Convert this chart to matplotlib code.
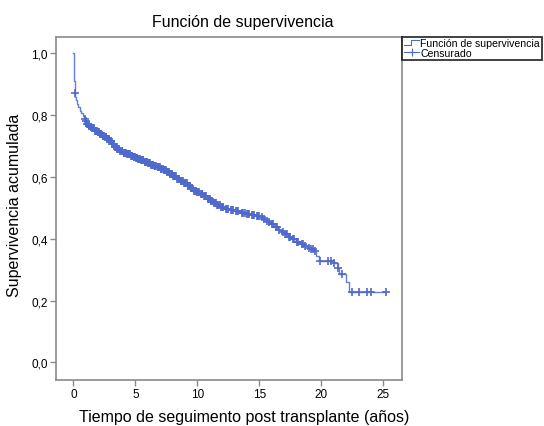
import numpy as np
import matplotlib
matplotlib.use("Agg")
import matplotlib.pyplot as plt
from matplotlib.lines import Line2D
from matplotlib.legend_handler import HandlerBase

plt.rcParams['font.family'] = ['Liberation Sans', 'DejaVu Sans']

# Kaplan-Meier step points
event_times = [0.0, 0.03, 0.06, 0.1, 0.15, 0.22, 0.3, 0.4, 0.5, 0.62,
               0.75, 0.85, 0.95, 1.05, 1.2, 1.35, 1.5, 1.7, 1.9, 2.1,
               2.3, 2.5, 2.7, 2.9, 3.1, 3.3, 3.5, 3.75, 4.0, 4.3,
               4.6, 4.8, 5.0, 5.2, 5.4, 5.7, 6.0, 6.25, 6.5, 6.75,
               7.0, 7.25, 7.5, 7.75, 8.0, 8.3, 8.6, 8.9, 9.2, 9.45,
               9.7, 9.95, 10.2, 10.5, 10.8, 11.05, 11.3, 11.55, 11.85, 12.2,
               12.6, 13.0, 13.5, 13.9, 14.3, 14.7, 15.1, 15.3, 15.5, 15.7,
               15.9, 16.2, 16.5, 16.75, 17.0, 17.3, 17.6, 17.95, 18.3, 18.6,
               18.9, 19.15, 19.4, 19.6, 19.8, 21.0, 21.3, 21.4, 21.95, 22.2]
survival = [1.000, 0.955, 0.912, 0.872, 0.860, 0.848, 0.836, 0.826, 0.815, 0.806,
            0.797, 0.789, 0.780, 0.772, 0.766, 0.762, 0.757, 0.750, 0.744, 0.738,
            0.733, 0.728, 0.723, 0.715, 0.707, 0.698, 0.690, 0.685, 0.679, 0.674,
            0.669, 0.665, 0.662, 0.659, 0.656, 0.650, 0.645, 0.640, 0.636, 0.631,
            0.626, 0.621, 0.615, 0.609, 0.602, 0.595, 0.588, 0.580, 0.571, 0.563,
            0.555, 0.550, 0.545, 0.537, 0.530, 0.522, 0.515, 0.508, 0.502, 0.497,
            0.492, 0.489, 0.485, 0.481, 0.477, 0.473, 0.469, 0.464, 0.458, 0.453,
            0.448, 0.439, 0.430, 0.422, 0.415, 0.407, 0.400, 0.391, 0.383, 0.377,
            0.371, 0.366, 0.361, 0.345, 0.329, 0.322, 0.307, 0.286, 0.259, 0.227]
end_time = 25.2

censored_times = [0.1, 0.9, 1.0, 1.1, 1.15, 1.25, 1.3, 1.4, 1.45, 1.55, 1.6, 1.65, 1.75, 1.8,
                  1.85, 1.95, 2.0, 2.05, 2.15, 2.2, 2.25, 2.35, 2.4, 2.45, 2.55, 2.6, 2.65,
                  2.75, 2.8, 2.85, 2.95, 3.0, 3.05, 3.15, 3.2, 3.25, 3.35, 3.4, 3.45, 3.55,
                  3.6, 3.7, 3.8, 3.9, 3.95, 4.05, 4.1, 4.2, 4.25, 4.35, 4.4, 4.5, 4.55, 4.65,
                  4.7, 4.75, 4.85, 4.9, 4.95, 5.05, 5.1, 5.15, 5.25, 5.3, 5.35, 5.45, 5.5,
                  5.6, 5.65, 5.75, 5.8, 5.9, 5.95, 6.05, 6.1, 6.2, 6.3, 6.35, 6.4, 6.45,
                  6.55, 6.6, 6.7, 6.8, 6.85, 6.9, 6.95, 7.05, 7.1, 7.2, 7.3, 7.35, 7.4,
                  7.45, 7.55, 7.6, 7.7, 7.8, 7.85, 7.9, 7.95, 8.05, 8.1, 8.2, 8.25, 8.35,
                  8.4, 8.5, 8.55, 8.65, 8.7, 8.8, 8.85, 8.95, 9.0, 9.1, 9.15, 9.25, 9.3,
                  9.4, 9.5, 9.55, 9.6, 9.75, 9.8, 9.9, 10.0, 10.05, 10.1, 10.3, 10.35,
                  10.4, 10.55, 10.6, 10.7, 10.85, 10.9, 11.0, 11.1, 11.2, 11.35, 11.4,
                  11.5, 11.6, 11.7, 11.8, 11.9, 12.0, 12.1, 12.3, 12.4, 12.5, 12.7, 12.8,
                  12.9, 13.1, 13.2, 13.3, 13.6, 13.7, 13.8, 14.0, 14.1, 14.2, 14.4, 14.5,
                  14.6, 14.8, 14.9, 15.0, 15.2, 15.4, 15.6, 15.8, 16.0, 16.1, 16.3, 16.4,
                  16.6, 16.9, 17.1, 17.2, 17.4, 17.5, 17.7, 17.8, 18.0, 18.1, 18.4, 18.5,
                  18.7, 19.0, 19.2, 19.3, 19.5, 19.9, 20.5, 20.8, 21.05, 21.35, 21.7,
                  22.5, 23.0, 23.7, 23.97, 25.2]

x_ticks = [0, 5, 10, 15, 20, 25]
y_ticks = [0.0, 0.2, 0.4, 0.6, 0.8, 1.0]
y_tick_labels = ['0,0', '0,2', '0,4', '0,6', '0,8', '1,0']

title = 'Función de supervivencia'
xlabel = 'Tiempo de seguimento post transplante (años)'
ylabel = 'Supervivencia acumulada'
legend_labels = ['Función de supervivencia', 'Censurado']

line_color = '#5069cc'
frame_color = '#8a8a8a'

W, H = 544, 427
fig = plt.figure(figsize=(W / 100, H / 100), dpi=100)
ax = fig.add_axes([56 / W, 1 - 381 / H, (402 - 56) / W, (381 - 37.7) / H])

t = np.array(event_times + [end_time])
s = np.array(survival + [survival[-1]])
ax.step(t, s, where='post', color=line_color, lw=1.0, alpha=0.85)

ct = np.array(censored_times)
idx = np.searchsorted(np.array(event_times), ct, side='right') - 1
cs = np.array(survival)[idx]
ax.plot(ct, cs, linestyle='none', marker='+', ms=6, mew=1.2, color=line_color)

ax.set_xlim(-1.4, 26.5)
ax.set_ylim(-0.057, 1.054)
ax.set_xticks(x_ticks)
ax.set_xticklabels([str(v) for v in x_ticks])
ax.set_yticks(y_ticks)
ax.set_yticklabels(y_tick_labels)
ax.tick_params(direction='out', length=4, width=1.0, color=frame_color,
               labelsize=8.5, pad=2)
for sp in ax.spines.values():
    sp.set_color(frame_color)
    sp.set_linewidth(1.2)

fig.text(243 / W, 1 - 22 / H, title, ha='center', va='center', fontsize=11.5)
fig.text(244 / W, 1 - 418 / H, xlabel, ha='center', va='center', fontsize=11.5)
fig.text(15 / W, 1 - 205 / H, ylabel, ha='center', va='center', rotation=90, fontsize=11.5)


class StepHandler(HandlerBase):
    def create_artists(self, legend, orig_handle, xdescent, ydescent, width, height, fontsize, trans):
        x0 = -xdescent
        y0 = -ydescent
        xs = [x0, x0 + width * 0.45, x0 + width * 0.45, x0 + width]
        ys = [y0 + height * 0.2, y0 + height * 0.2, y0 + height * 0.85, y0 + height * 0.85]
        l = Line2D(xs, ys, color=line_color, lw=0.8, transform=trans)
        return [l]


step_handle = Line2D([], [], color=line_color)
cens_handle = Line2D([], [], color=line_color, lw=0.8, marker='+', ms=6, mew=0.8)
leg = fig.legend([step_handle, cens_handle], legend_labels,
                 loc='upper left', bbox_to_anchor=(402 / W, 1 - 37.5 / H),
                 borderaxespad=0, fontsize=7.6, frameon=True, fancybox=False,
                 edgecolor='black', handlelength=1.5, handletextpad=0.1,
                 borderpad=0.15, labelspacing=0.0,
                 handler_map={step_handle: StepHandler()})
leg.get_frame().set_linewidth(1.3)

fig.savefig('out.png', dpi=100)
